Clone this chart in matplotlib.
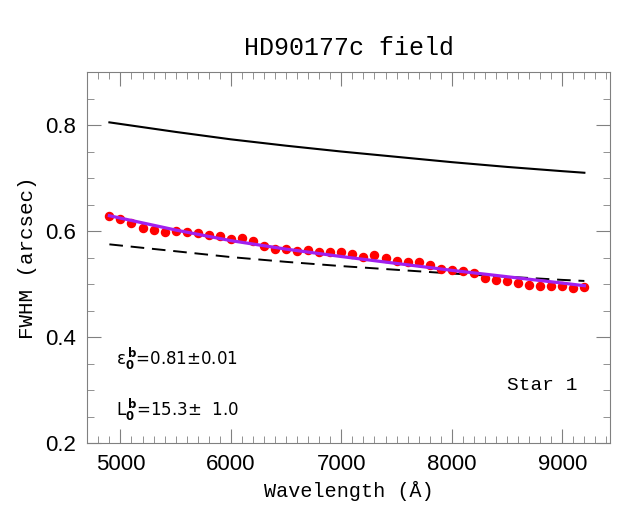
import matplotlib
matplotlib.use("Agg")
import matplotlib.pyplot as plt
from matplotlib.ticker import MultipleLocator

# star FWHM measured every 100 A
WAVE = [4900, 5000, 5100, 5200, 5300, 5400, 5500, 5600, 5700, 5800,
        5900, 6000, 6100, 6200, 6300, 6400, 6500, 6600, 6700, 6800,
        6900, 7000, 7100, 7200, 7300, 7400, 7500, 7600, 7700, 7800,
        7900, 8000, 8100, 8200, 8300, 8400, 8500, 8600, 8700, 8800,
        8900, 9000, 9100, 9200]
FWHM = [0.6285, 0.6235, 0.6148, 0.606, 0.6016, 0.5984, 0.5997, 0.5978, 0.5965, 0.5933,
        0.5908, 0.5858, 0.5877, 0.5814, 0.572, 0.5663, 0.566, 0.563, 0.564, 0.561,
        0.560, 0.560, 0.557, 0.552, 0.554, 0.5494, 0.5437, 0.5424, 0.5412, 0.5367,
        0.5292, 0.5273, 0.5243, 0.5205, 0.5117, 0.5073, 0.5054, 0.5022, 0.499, 0.4971,
        0.496, 0.496, 0.4934, 0.4952]

# model curves
WAVE_M = [4900, 5500, 6000, 6500, 7000, 7500, 8000, 8500, 9000, 9200]
SEEING = [0.805, 0.787, 0.773, 0.761, 0.750, 0.740, 0.730, 0.721, 0.713, 0.710]
SEEING_B = [0.575, 0.562, 0.551, 0.542, 0.534, 0.527, 0.520, 0.514, 0.508, 0.506]
FIT = [0.629, 0.602, 0.582, 0.566, 0.552, 0.539, 0.526, 0.514, 0.502, 0.497]

mono = "Liberation Mono"
gray = "#808080"

fig = plt.figure(figsize=(6.28, 5.16), dpi=100)
ax = fig.add_axes([0.139, 0.141, 0.832, 0.7195])

ax.plot(WAVE_M, SEEING, color="black", lw=1.5)
ax.plot(WAVE_M, SEEING_B, color="black", lw=1.4, dashes=(7, 4))
ax.plot(WAVE, FWHM, "o", color="red", ms=5.8, mec="red", zorder=3)
ax.plot(WAVE_M, FIT, color="#a020f0", lw=2.3, zorder=4)

ax.set_xlim(4700, 9430)
ax.set_ylim(0.2, 0.9)
ax.xaxis.set_major_locator(MultipleLocator(1000))
ax.xaxis.set_minor_locator(MultipleLocator(100))
ax.yaxis.set_major_locator(MultipleLocator(0.2))
ax.yaxis.set_minor_locator(MultipleLocator(0.05))
ax.tick_params(which="both", direction="in", top=True, right=True, color=gray,
               labelsize=16, pad=8)
ax.tick_params(which="major", length=10)
ax.tick_params(which="minor", length=5)
for lab in ax.get_xticklabels() + ax.get_yticklabels():
    lab.set_family("Liberation Sans")
for s in ax.spines.values():
    s.set_color(gray)

ax.set_title("HD90177c field", family=mono, fontsize=18, pad=12)
ax.set_xlabel("Wavelength (Å)", family=mono, fontsize=14.5, labelpad=4)
ax.set_ylabel("FWHM (arcsec)", family=mono, fontsize=15, labelpad=6)

ax.text(4960, 0.348, r"ε$_\mathbf{0}^{\,\mathbf{b}}$=0.81±0.01", fontsize=12,
        family="DejaVu Sans")
ax.text(4960, 0.252, r"L$_\mathbf{0}^{\,\mathbf{b}}$=15.3±  1.0", fontsize=12,
        family="DejaVu Sans")
ax.text(9140, 0.30, "Star 1", family=mono, fontsize=14, ha="right")

plt.savefig("out.png", dpi=100)
